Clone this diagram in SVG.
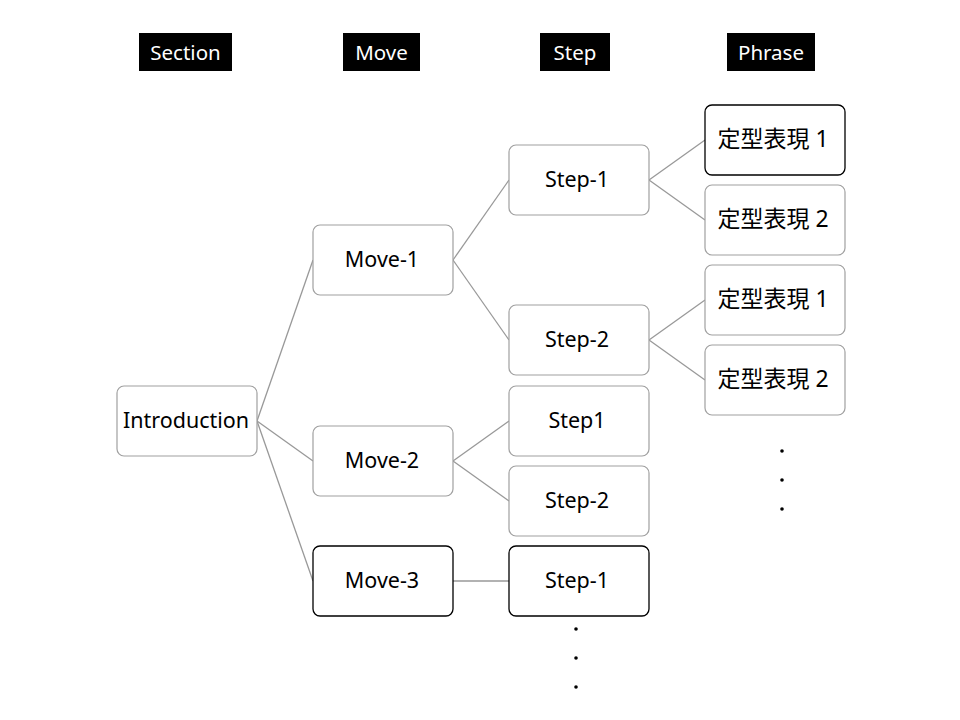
<svg xmlns="http://www.w3.org/2000/svg" width="960" height="720" viewBox="0 0 960 720">
<style>
.hdr{fill:#000}
.ht{fill:#fff;font-family:"Noto Sans","Open Sans",sans-serif;font-size:20.5px;text-anchor:middle;dominant-baseline:central}
.n{fill:#fff;stroke:#a0a0a0;stroke-width:1.2}
.nb{fill:#fff;stroke:#000;stroke-width:1.3}
.t{fill:#000;font-family:"Noto Sans","Noto Sans CJK JP",sans-serif;font-size:21.5px;text-anchor:middle;dominant-baseline:central}
.p{fill:#000;font-family:"Noto Sans","Noto Sans CJK JP",sans-serif;font-size:23px;text-anchor:middle;dominant-baseline:central}
.c{stroke:#999;stroke-width:1.3;fill:none}
.d{fill:#000}
</style>
<rect width="960" height="720" fill="#fff"/>
<g id="headers">
<rect class="hdr" x="139" y="33" width="93" height="38"/><text class="ht" x="185.5" y="52">Section</text>
<rect class="hdr" x="343" y="33" width="77" height="38"/><text class="ht" x="381.5" y="52">Move</text>
<rect class="hdr" x="540" y="33" width="70" height="38"/><text class="ht" x="575" y="52">Step</text>
<rect class="hdr" x="727" y="33" width="88" height="38"/><text class="ht" x="771" y="52">Phrase</text>
</g>
<g id="connectors">
<line class="c" x1="257" y1="421" x2="313" y2="260"/>
<line class="c" x1="257" y1="421" x2="313" y2="461"/>
<line class="c" x1="257" y1="421" x2="313" y2="581"/>
<line class="c" x1="453" y1="260" x2="509" y2="180"/>
<line class="c" x1="453" y1="260" x2="509" y2="340"/>
<line class="c" x1="453" y1="461" x2="509" y2="421"/>
<line class="c" x1="453" y1="461" x2="509" y2="501"/>
<line class="c" x1="453" y1="581" x2="509" y2="581"/>
<line class="c" x1="649" y1="180" x2="705" y2="140"/>
<line class="c" x1="649" y1="180" x2="705" y2="220"/>
<line class="c" x1="649" y1="340" x2="705" y2="300"/>
<line class="c" x1="649" y1="340" x2="705" y2="380"/>
</g>
<g id="intro"><rect class="n" x="117" y="386" width="140" height="70" rx="7"/><text class="t" x="186" y="419">Introduction</text></g>
<g id="move1"><rect class="n" x="313" y="225" width="140" height="70" rx="7"/><text class="t" x="382" y="258">Move-1</text></g>
<g id="move2"><rect class="n" x="313" y="426" width="140" height="70" rx="7"/><text class="t" x="382" y="459">Move-2</text></g>
<g id="move3"><rect class="nb" x="313" y="546" width="140" height="70" rx="7"/><text class="t" x="382" y="579">Move-3</text></g>
<g id="step1a"><rect class="n" x="509" y="145" width="140" height="70" rx="7"/><text class="t" x="577" y="178">Step-1</text></g>
<g id="step2a"><rect class="n" x="509" y="305" width="140" height="70" rx="7"/><text class="t" x="577" y="338">Step-2</text></g>
<g id="step1b"><rect class="n" x="509" y="386" width="140" height="70" rx="7"/><text class="t" x="577" y="419">Step1</text></g>
<g id="step2b"><rect class="n" x="509" y="466" width="140" height="70" rx="7"/><text class="t" x="577" y="499">Step-2</text></g>
<g id="step1c"><rect class="nb" x="509" y="546" width="140" height="70" rx="7"/><text class="t" x="577" y="579">Step-1</text></g>
<g id="phrase1a"><rect class="nb" x="705" y="105" width="140" height="70" rx="7"/><text class="p" x="773" y="138">定型表現 1</text></g>
<g id="phrase2a"><rect class="n" x="705" y="185" width="140" height="70" rx="7"/><text class="p" x="773" y="218">定型表現 2</text></g>
<g id="phrase1b"><rect class="n" x="705" y="265" width="140" height="70" rx="7"/><text class="p" x="773" y="298">定型表現 1</text></g>
<g id="phrase2b"><rect class="n" x="705" y="345" width="140" height="70" rx="7"/><text class="p" x="773" y="378">定型表現 2</text></g>
<g id="dots">
<circle class="d" cx="782" cy="451" r="1.8"/><circle class="d" cx="782" cy="480" r="1.8"/><circle class="d" cx="782" cy="509" r="1.8"/>
<circle class="d" cx="576" cy="629" r="1.8"/><circle class="d" cx="576" cy="658" r="1.8"/><circle class="d" cx="576" cy="687" r="1.8"/>
</g>
</svg>
